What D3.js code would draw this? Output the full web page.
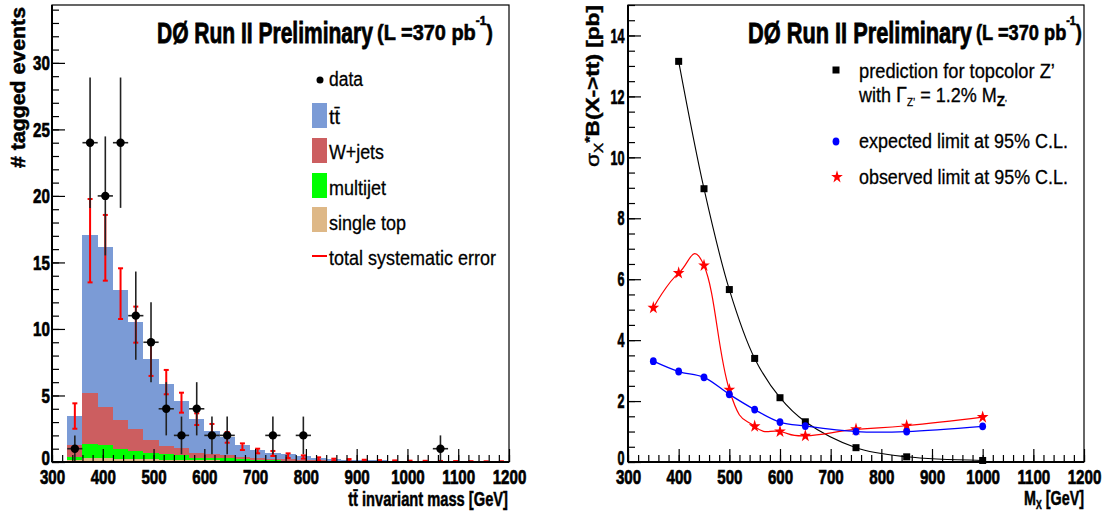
<!DOCTYPE html>
<html><head><meta charset="utf-8">
<script src="https://cdn.jsdelivr.net/npm/d3@7"></script>
<style>
body{margin:0;background:#fff;}
svg{display:block;font-family:"Liberation Sans",Arial,Helvetica,sans-serif;}
</style></head><body>
<svg id="c" width="1106" height="517"></svg>
<script>
// ================= LEFT PANEL DATA =================
const binCenters = [345,375,405,435,465,495,525,555,585,615,645,675,705,735,765,795,825,855,885,915,945,975,1005,1035,1065,1095,1125,1155,1185];
const ttbar     = [2.17,11.91,12.06,9.77,8.07,6.09,4.68,3.51,2.56,1.7,1.35,0.85,0.57,0.4,0.38,0.28,0.15,0.1,0.07,0.05,0.05,0.04,0.03,0.03,0.02,0.02,0.02,0.01,0.01];
const wjets     = [0.95,3.78,2.83,2.21,1.61,1.03,0.6,0.52,0.32,0.3,0.22,0.2,0.17,0.13,0.1,0.08,0.06,0.05,0.04,0.03,0.03,0.02,0.02,0.02,0.01,0.01,0.01,0.01,0.01];
const multijet  = [0.2,1.1,1.0,0.7,0.63,0.45,0.41,0.38,0.2,0.18,0.18,0.12,0.09,0.07,0.06,0.05,0.04,0.03,0.03,0.02,0.02,0.01,0.01,0.01,0.01,0.01,0,0,0];
const singleTop = [0.15,0.28,0.28,0.25,0.22,0.2,0.17,0.15,0.13,0.12,0.1,0.08,0.07,0.05,0.04,0.04,0.03,0.03,0.02,0.02,0.02,0.01,0.01,0.01,0.01,0.01,0.01,0,0];
const sysLow    = [2.5,13.5,13.63,10.75,8.97,6.47,5.09,3.71,2.78,1.9,1.45,0.9,0.65,0.45,0.3,0.25,0.12,0.08,0.05,0.05,0.04,0.03,0.02,0.02,0.02,0.01,0.01,0.01,0.01];
const sysHigh   = [4.41,19.77,18.57,14.56,11.68,9.1,6.92,5.21,3.66,2.86,2.25,1.4,1.0,0.83,0.65,0.5,0.35,0.25,0.22,0.17,0.14,0.12,0.1,0.09,0.08,0.07,0.06,0.05,0.05];
const dataCounts= [1,24,20,24,11,9,4,2,4,2,2,0,0,2,0,2,0,0,0,0,0,0,0,0,1,0,0,0,0];
const leftXTicks = [300,400,500,600,700,800,900,1000,1100,1200];
const leftYTicks = [0,5,10,15,20,25,30];
const legendLeft = ["data","tt\u0304","W+jets","multijet","single top","total systematic error"];

// ================= RIGHT PANEL DATA =================
const predMass = [400,450,500,550,600,650,750,850,1000];
const predXsec = [13.15,8.97,5.66,3.40,2.11,1.32,0.47,0.17,0.05];
const limitMass = [350,400,450,500,550,600,650,750,850,1000];
const expLimit = [3.31,2.97,2.78,2.22,1.72,1.31,1.18,1.0,1.0,1.17];
const obsLimit = [5.06,6.2,6.45,2.37,1.17,1.0,0.86,1.07,1.19,1.47];
const rightXTicks = [300,400,500,600,700,800,900,1000,1100,1200];
const rightYTicks = [0,2,4,6,8,10,12,14];

const colors = {ttbar:"#7b9bd6", wjets:"#cc5e60", multijet:"#00ff00", singleTop:"#deb887"};
const binHalf = 15;

const svg = d3.select("#c");

// ---------- helpers ----------
function txt(parent, x, y, o, parts){
  const g = parent.append("g").attr("transform", `translate(${x},${y})` + (o.rotate ? ` rotate(${o.rotate})` : ""));
  const t = g.append("text").attr("text-anchor", o.anchor || "start")
    .attr("font-size", o.size).attr("font-weight", o.weight || "normal").attr("fill", "#000");
  if (o.heavy) t.attr("stroke","#000").attr("stroke-width",o.heavy);
  (parts || [{t:o.text}]).forEach(p => {
    const s = t.append("tspan").text(p.t);
    if (p.size) s.attr("font-size", p.size);
    if (p.weight) s.attr("font-weight", p.weight);
    if (p.dy) s.attr("dy", p.dy);
  });
  if (o.width){
    const w = t.node().getComputedTextLength();
    if (w > 0) t.attr("transform", `scale(${o.width / w},${o.sy || 1})`);
  }
  return t;
}

function axes(g, x, y, xMaj, xMin, yMaj, yMin, ySx){
  const y0 = y.range()[0], x0 = x.range()[0];
  const style = s => { s.select(".domain").remove(); s.selectAll("line").attr("stroke","#000").attr("stroke-width",1.2); };
  g.append("g").attr("transform",`translate(0,${y0})`)
    .call(d3.axisBottom(x).tickValues(xMin).tickSize(-7).tickFormat("")).call(style);
  const bx = g.append("g").attr("transform",`translate(0,${y0})`)
    .call(d3.axisBottom(x).tickValues(xMaj).tickSize(-13).tickPadding(7).tickFormat(d3.format("d"))).call(style);
  g.append("g").attr("transform",`translate(${x0},0)`)
    .call(d3.axisLeft(y).tickValues(yMin).tickSize(-7).tickFormat("")).call(style);
  const ly = g.append("g").attr("transform",`translate(${x0},0)`)
    .call(d3.axisLeft(y).tickValues(yMaj).tickSize(-13).tickPadding(ySx.pad).tickFormat(d3.format("d"))).call(style);
  [bx, ly].forEach(a => a.attr("font-family", null).attr("font-size", null));
  const st = s => s.attr("font-size",21).attr("font-weight","bold").attr("fill","#000").attr("stroke","#000").attr("stroke-width",0.7);
  bx.selectAll("text").call(st).attr("transform","scale(0.72,1)");
  ly.selectAll("text").call(st).attr("transform",`scale(${ySx.sx},1)`)
    .filter(d => d === 0).attr("dy","0.12em");
  // frame
  const [xa, xb] = x.range(), [ya, yb] = y.range();
  g.append("rect").attr("x", xa).attr("y", yb).attr("width", xb - xa).attr("height", ya - yb)
    .attr("fill","none").attr("stroke","#000").attr("stroke-width",1.2);
  g.append("line").attr("x1",xa).attr("x2",xb).attr("y1",ya).attr("y2",ya).attr("stroke","#000").attr("stroke-width",2);
  g.append("line").attr("x1",xa).attr("x2",xa).attr("y1",ya).attr("y2",yb).attr("stroke","#000").attr("stroke-width",2);
}

// ================= LEFT PANEL =================
const xL = d3.scaleLinear().domain([300,1200]).range([52,509]);
const yL = d3.scaleLinear().domain([0,34.35]).range([462,5]);
const L = svg.append("g");

const rows = binCenters.map((c,i)=>({c, singleTop:singleTop[i], multijet:multijet[i], wjets:wjets[i], ttbar:ttbar[i]}));
const layers = d3.stack().keys(["singleTop","multijet","wjets","ttbar"])(rows);
const stepArea = d3.area().x(d=>xL(d.x)).y0(d=>yL(d.y0)).y1(d=>yL(d.y1));
layers.slice().reverse().forEach(layer=>{
  const pts = [];
  layer.forEach((d,i)=>{ pts.push({x:binCenters[i]-binHalf, y0:0, y1:d[1]}); pts.push({x:binCenters[i]+binHalf, y0:0, y1:d[1]}); });
  L.append("path").attr("d", stepArea(pts)).attr("fill", colors[layer.key]).attr("shape-rendering","crispEdges");
});

// systematic errors
const sysG = L.append("g").attr("stroke","#ff0000").attr("stroke-width",2);
binCenters.forEach((c,i)=>{
  const x = xL(c);
  sysG.append("line").attr("x1",x).attr("x2",x).attr("y1",yL(sysLow[i])).attr("y2",yL(sysHigh[i]));
  [sysLow[i], sysHigh[i]].forEach(v=> sysG.append("line").attr("x1",x-2.5).attr("x2",x+2.5).attr("y1",yL(v)).attr("y2",yL(v)));
});

// data points
const dG = L.append("g");
binCenters.forEach((c,i)=>{
  const n = dataCounts[i]; if (!n) return;
  const e = Math.sqrt(n), x = xL(c);
  dG.append("line").attr("x1",x).attr("x2",x).attr("y1",yL(n-e)).attr("y2",yL(n+e)).attr("stroke","#222").attr("stroke-width",1.6);
  dG.append("line").attr("x1",xL(c-binHalf)).attr("x2",xL(c+binHalf)).attr("y1",yL(n)).attr("y2",yL(n)).attr("stroke","#222").attr("stroke-width",1.6);
  dG.append("circle").attr("cx",x).attr("cy",yL(n)).attr("r",4.2).attr("fill","#000");
});

axes(L, xL, yL, leftXTicks, d3.range(300,1201,20), leftYTicks, d3.range(0,35,1), {sx:0.72, pad:3});

// titles
txt(L, 157, 43, {size:29, weight:"bold", heavy:0.8, width:216, text:"D\u00d8 Run II Preliminary"});
txt(L, 377, 40, {size:22, weight:"bold", heavy:0.6, width:116}, [{t:"(L =370 pb"},{t:"-1",size:13,dy:-15},{t:")",dy:15}]);

// legend
L.append("circle").attr("cx",320).attr("cy",80).attr("r",3.5).attr("fill","#000");
const boxes = [["ttbar",103],["wjets",138],["multijet",173],["singleTop",207]];
boxes.forEach(([k,y])=> L.append("rect").attr("x",312).attr("y",y).attr("width",15).attr("height",25).attr("fill",colors[k]));
L.append("line").attr("x1",312).attr("x2",327).attr("y1",256).attr("y2",256).attr("stroke","#ff0000").attr("stroke-width",2);
const legBase = [86,124,159,195,230,265];
const legW = [34,11,55,57,77,167];
legendLeft.forEach((s,i)=> txt(L, 329, legBase[i], {size:21, heavy:0.3, width:legW[i], text:s}));

// axis titles
txt(L, 25, 7, {size:20, weight:"bold", heavy:0.5, anchor:"end", rotate:-90, width:161, text:"# tagged events"});
txt(L, 508, 506, {size:20, weight:"bold", heavy:0.5, anchor:"end", width:160, text:"tt\u0304 invariant mass [GeV]"});

// ================= RIGHT PANEL =================
const xR = d3.scaleLinear().domain([300,1200]).range([628,1084]);
const yR = d3.scaleLinear().domain([0,15]).range([462,5]);
const R = svg.append("g");
const smooth = d3.line().curve(d3.curveCatmullRom.alpha(0.5));
const smoothObs = d3.line().curve(d3.curveCardinal.tension(-0.35));

const predPts = predMass.map((m,i)=>[xR(m), yR(predXsec[i])]);
const expPts = limitMass.map((m,i)=>[xR(m), yR(expLimit[i])]);
const obsPts = limitMass.map((m,i)=>[xR(m), yR(obsLimit[i])]);

R.append("path").attr("d", smooth(predPts)).attr("fill","none").attr("stroke","#000").attr("stroke-width",1.1);
predPts.forEach(p=> R.append("rect").attr("x",p[0]-3.5).attr("y",p[1]-3.5).attr("width",7).attr("height",7).attr("fill","#000"));

R.append("path").attr("d", smoothObs(obsPts)).attr("fill","none").attr("stroke","#ff0000").attr("stroke-width",1.2);
const star = d3.symbol().type(d3.symbolStar).size(52);
obsPts.forEach(p=> R.append("path").attr("d", star()).attr("transform",`translate(${p[0]},${p[1]}) scale(0.9,1)`).attr("fill","#ff0000"));

R.append("path").attr("d", smooth(expPts)).attr("fill","none").attr("stroke","#0000ff").attr("stroke-width",1.3);
expPts.forEach(p=> R.append("ellipse").attr("cx",p[0]).attr("cy",p[1]).attr("rx",3.4).attr("ry",3.9).attr("fill","#0000ff"));

axes(R, xR, yR, rightXTicks, d3.range(300,1201,20), rightYTicks, d3.range(0,15.01,0.5), {sx:0.6, pad:6});

txt(R, 748, 43, {size:29, weight:"bold", heavy:0.8, width:224, text:"D\u00d8 Run II Preliminary"});
txt(R, 976, 40, {size:22, weight:"bold", heavy:0.6, width:106}, [{t:"(L =370 pb"},{t:"-1",size:13,dy:-15},{t:")",dy:15}]);

// legend
R.append("rect").attr("x",832.5).attr("y",66.5).attr("width",7).attr("height",7).attr("fill","#000");
R.append("ellipse").attr("cx",836).attr("cy",141.5).attr("rx",3.4).attr("ry",3.9).attr("fill","#0000ff");
R.append("path").attr("d", star()).attr("transform","translate(837,177) scale(0.9,1)").attr("fill","#ff0000");
txt(R, 859, 78, {size:20, heavy:0.3, width:196, text:"prediction for topcolor Z\u2019"});
txt(R, 859, 102, {size:20, heavy:0.3, width:148}, [{t:"with "},{t:"\u0393",size:22},{t:"Z\u2019",size:11,dy:4},{t:" = 1.2% M",dy:-4},{t:"Z",size:15,weight:"bold",dy:4},{t:"\u2019",size:9}]);
txt(R, 859, 148, {size:20, heavy:0.3, width:209, text:"expected limit at 95% C.L."});
txt(R, 859, 184, {size:20, heavy:0.3, width:209, text:"observed limit at 95% C.L."});

// axis titles
txt(R, 599, 5, {size:18, heavy:0.4, anchor:"end", rotate:-90, width:162},
  [{t:"\u03c3"},{t:"X",size:12,dy:4},{t:"*",size:13,weight:"bold",dy:-9},{t:"B(X->tt)",weight:"bold",dy:5},{t:"   [pb]",weight:"bold"}]);
txt(R, 1084, 505, {size:20, weight:"bold", heavy:0.5, anchor:"end", width:60}, [{t:"M"},{t:"X",size:12,dy:4},{t:" [GeV]",dy:-4}]);
</script>
</body></html>
